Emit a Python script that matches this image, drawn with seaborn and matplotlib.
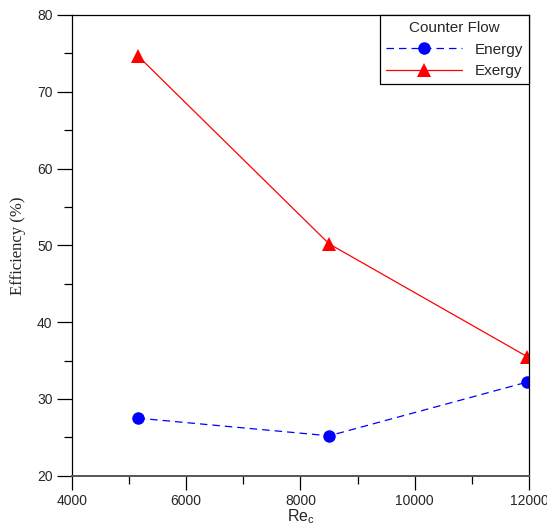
import matplotlib
matplotlib.use("Agg")
import matplotlib.pyplot as plt
import pandas as pd
import seaborn as sns
from matplotlib.ticker import MultipleLocator

# Data
re_c = [5150, 8500, 11970]
energy = [27.5, 25.2, 32.2]
exergy = [74.7, 50.2, 35.5]

df = pd.DataFrame({"Re": re_c, "Energy": energy, "Exergy": exergy})

sns.set_style("ticks")
plt.rcParams["font.family"] = ["Liberation Sans", "DejaVu Sans"]

fig = plt.figure(figsize=(5.47, 5.28), dpi=100)
ax = fig.add_axes([0.1316, 0.099, 0.8355, 0.8726])

sns.lineplot(data=df, x="Re", y="Energy", ax=ax, color="#0000ff",
             linestyle=(0, (6, 4)), linewidth=0.9, marker="o",
             markersize=9, markeredgewidth=0, label="Energy")
sns.lineplot(data=df, x="Re", y="Exergy", ax=ax, color="#ff0000",
             linewidth=0.9, marker="^", markersize=10,
             markeredgewidth=0, label="Exergy")

ax.set_xlim(4000, 12000)
ax.set_ylim(20, 80)
ax.xaxis.set_major_locator(MultipleLocator(2000))
ax.xaxis.set_minor_locator(MultipleLocator(1000))
ax.yaxis.set_major_locator(MultipleLocator(10))
ax.yaxis.set_minor_locator(MultipleLocator(5))
ax.tick_params(which="major", direction="out", length=11, width=0.9,
               color="black", labelsize=10)
ax.tick_params(which="minor", direction="out", length=5.5, width=0.9,
               color="black")
ax.tick_params(axis="x", which="major", length=10, pad=3)
ax.tick_params(axis="y", which="major", pad=3)

for side in ["left", "right", "top"]:
    ax.spines[side].set_visible(True)
    ax.spines[side].set_color("black")
    ax.spines[side].set_linewidth(0.9)
ax.spines["bottom"].set_color("#555555")
ax.spines["bottom"].set_linewidth(1.4)

ax.set_xlabel("Re$_\\mathregular{c}$", fontsize=11.5, labelpad=0)
ax.set_ylabel("Efficiency (%)", fontsize=12, family="Liberation Serif",
              labelpad=8)

leg = ax.legend(title="Counter Flow", loc="upper right", borderaxespad=0,
                fancybox=False, edgecolor="black", fontsize=11,
                title_fontsize=11, handlelength=5, markerfirst=True,
                framealpha=1)
leg.get_frame().set_linewidth(0.9)

fig.savefig("out.png", dpi=100)
